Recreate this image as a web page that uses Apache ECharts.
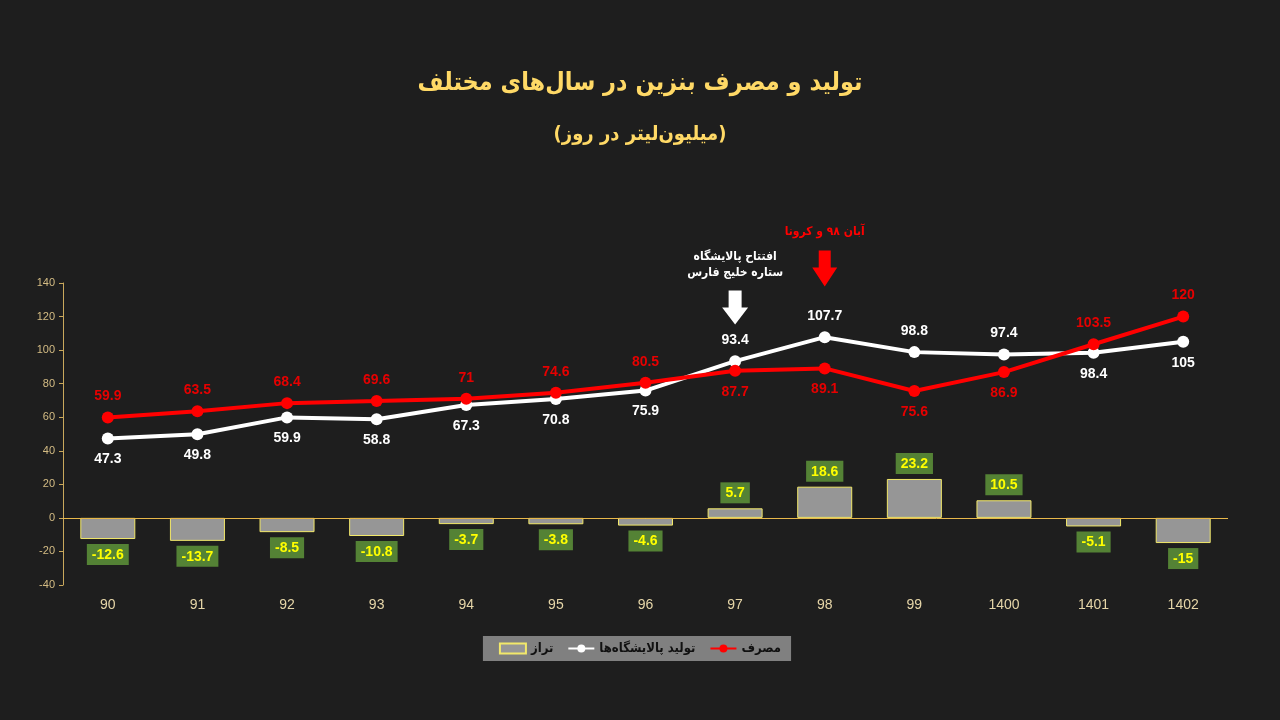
<!DOCTYPE html>
<html>
<head>
<meta charset="utf-8">
<script src="https://cdn.jsdelivr.net/npm/echarts@6/dist/echarts.min.js"></script>
<style>
html,body{margin:0;padding:0;background:#1e1e1e;}
#chart{width:1280px;height:720px;}
</style>
</head>
<body>
<div id="chart"></div>
<script>
const years = ['90','91','92','93','94','95','96','97','98','99','1400','1401','1402'];
const consumption = [59.9, 63.5, 68.4, 69.6, 71, 74.6, 80.5, 87.7, 89.1, 75.6, 86.9, 103.5, 120];
const production = [47.3, 49.8, 59.9, 58.8, 67.3, 70.8, 75.9, 93.4, 107.7, 98.8, 97.4, 98.4, 105];
const balance = [-12.6, -13.7, -8.5, -10.8, -3.7, -3.8, -4.6, 5.7, 18.6, 23.2, 10.5, -5.1, -15];
const yTicks = {min: -40, max: 140, interval: 20};
const names = {consumption: 'مصرف', production: 'تولید پالایشگاه‌ها', balance: 'تراز'};
const titleText = 'تولید و مصرف بنزین در سال‌های مختلف';
const subtitleText = '(میلیون‌لیتر در روز)';
const note1 = ['افتتاح پالایشگاه', 'ستاره خلیج فارس'];
const note2 = 'آبان ۹۸ و کرونا';

const faFont = '"DejaVu Sans Condensed", "DejaVu Sans"';
const numFont = 'Liberation Sans';

const chart = echarts.init(document.getElementById('chart'));

const consData = consumption.map((v, i) => ({
  value: v,
  label: {position: v >= production[i] ? 'top' : 'bottom'}
}));
const prodData = production.map((v, i) => ({
  value: v,
  label: {position: v > consumption[i] ? 'top' : 'bottom'}
}));
const balData = balance.map(v => ({
  value: v,
  label: {position: v < 0 ? 'bottom' : 'top'}
}));

const option = {
  backgroundColor: '#1e1e1e',
  animation: false,
  title: [
    {text: titleText, left: 'center', top: 66,
     textStyle: {color: '#ffd966', fontFamily: faFont, fontWeight: 'bold', fontSize: 25}},
    {text: subtitleText, left: 'center', top: 120,
     textStyle: {color: '#ffd966', fontFamily: faFont, fontWeight: 'bold', fontSize: 20}}
  ],
  grid: {left: 63, right: 52, top: 283, bottom: 135},
  legend: {
    bottom: 59, left: 'center',
    data: [{name: names.balance, icon: 'rect'}, names.production, names.consumption],
    backgroundColor: '#808080',
    padding: [6, 10, 6, 16],
    itemGap: 14,
    itemWidth: 26, itemHeight: 10,
    borderRadius: 0,
    textStyle: {color: '#111', fontFamily: faFont, fontWeight: 'bold', fontSize: 13}
  },
  xAxis: {
    type: 'category',
    data: years,
    axisLine: {show: false, onZero: false},
    axisTick: {show: false},
    axisLabel: {color: '#e6d6a8', fontFamily: numFont, fontSize: 14, margin: 13}
  },
  yAxis: {
    type: 'value',
    min: yTicks.min, max: yTicks.max, interval: yTicks.interval,
    axisLine: {show: true, lineStyle: {color: '#c9a85c', width: 1}},
    axisTick: {show: true, length: 4, lineStyle: {color: '#c9a85c'}},
    splitLine: {show: false},
    axisLabel: {color: '#d4bc84', fontFamily: numFont, fontSize: 11, margin: 8}
  },
  series: [
    {
      name: names.balance,
      type: 'bar',
      data: balData,
      barWidth: 55,
      itemStyle: {color: '#969696', borderColor: '#f2e86a', borderWidth: 1},
      label: {
        show: true, distance: 5,
        color: '#ffff00', backgroundColor: '#548235',
        fontFamily: numFont, fontWeight: 'bold', fontSize: 14,
        padding: [4, 5, 3, 5]
      },
      markLine: {
        silent: true, symbol: 'none',
        label: {show: false},
        lineStyle: {color: '#e8b84a', type: 'solid', width: 1},
        data: [{yAxis: 0}]
      },
      z: 2
    },
    {
      name: names.production,
      type: 'line',
      data: prodData,
      symbol: 'circle', symbolSize: 12,
      lineStyle: {color: '#ffffff', width: 4},
      itemStyle: {color: '#ffffff'},
      label: {show: true, distance: 8, color: '#ffffff', fontFamily: numFont, fontWeight: 'bold', fontSize: 14},
      z: 3
    },
    {
      name: names.consumption,
      type: 'line',
      data: consData,
      symbol: 'circle', symbolSize: 12,
      lineStyle: {color: '#ff0000', width: 4},
      itemStyle: {color: '#ff0000'},
      label: {show: true, distance: 8, color: '#e60000', fontFamily: numFont, fontWeight: 'bold', fontSize: 14},
      z: 4
    }
  ]
};
chart.setOption(option);

// annotations placed relative to the axis scales
const p97 = chart.convertToPixel({gridIndex: 0}, ['97', 0]);
const p98 = chart.convertToPixel({gridIndex: 0}, ['98', 0]);
const yA1 = chart.convertToPixel({gridIndex: 0}, ['97', 135])[1];
const yA2 = chart.convertToPixel({gridIndex: 0}, ['98', 160])[1];
function arrow(cx, top, color, sw, hw, shaftH, headH) {
  return {
    type: 'polygon',
    shape: {points: [
      [cx - sw / 2, top], [cx + sw / 2, top], [cx + sw / 2, top + shaftH],
      [cx + hw / 2, top + shaftH], [cx, top + shaftH + headH], [cx - hw / 2, top + shaftH],
      [cx - sw / 2, top + shaftH]
    ]},
    style: {fill: color}
  };
}
const noteFont = 'bold 12px "DejaVu Sans Condensed", "DejaVu Sans"';
chart.setOption({
  graphic: [
    {type: 'text', x: p97[0], y: yA1 - 35, style: {text: note1[0], fill: '#ffffff', font: noteFont, align: 'center', verticalAlign: 'middle'}},
    {type: 'text', x: p97[0], y: yA1 - 19, style: {text: note1[1], fill: '#ffffff', font: noteFont, align: 'center', verticalAlign: 'middle'}},
    arrow(p97[0], yA1 - 1, '#ffffff', 13, 26, 17, 17),
    {type: 'text', x: p98[0], y: yA2 - 18, style: {text: note2, fill: '#ff0000', font: noteFont, align: 'center', verticalAlign: 'middle'}},
    arrow(p98[0], yA2 + 1, '#ff0000', 12, 25, 17, 19)
  ]
});
</script>
</body>
</html>
